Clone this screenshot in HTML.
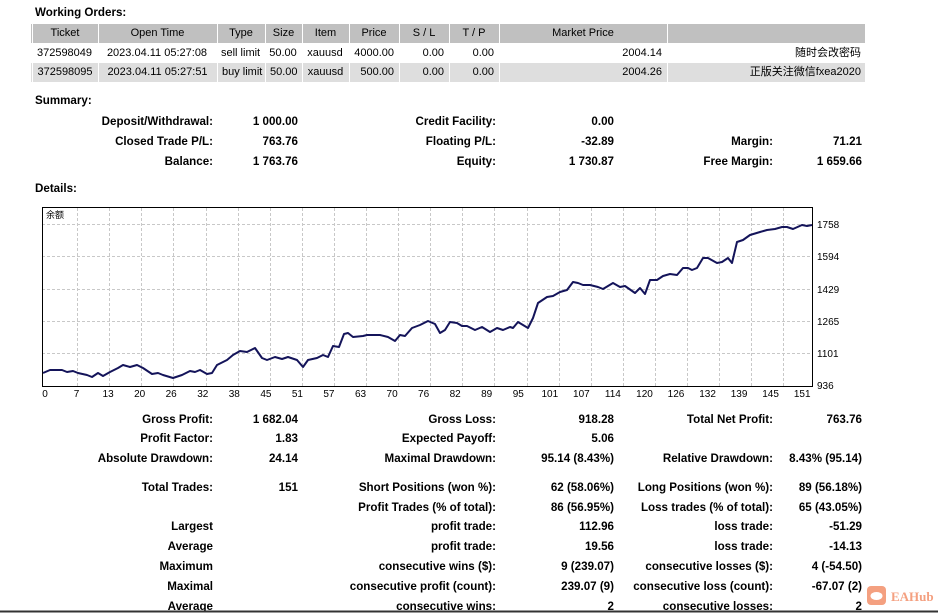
<!DOCTYPE html>
<html><head><meta charset="utf-8"><style>
body{margin:0;width:938px;height:613px;background:#fff;position:relative;overflow:hidden;font-family:"Liberation Sans","Noto Sans CJK SC",sans-serif;font-size:11px;color:#000}
.a{position:absolute;white-space:nowrap;line-height:14px}
.b{font-weight:bold;font-size:11.6px}
.r{text-align:right}
.c{text-align:center}
.cell{position:absolute;height:18px;line-height:18px;white-space:nowrap;padding:0 4px;box-sizing:border-box}
</style></head><body>
<div class="a b" style="left:35px;top:6px">Working Orders:</div>
<div style="position:absolute;left:31px;top:24px;width:834px;height:19px;background:#c0c0c0"></div>
<div style="position:absolute;left:31px;top:63px;width:834px;height:19px;background:#dedede"></div>
<div id="hdr"></div>
<script>
var cols=[[32,97,'Ticket'],[98,216,'Open Time'],[217,264,'Type'],[265,301,'Size'],[302,348,'Item'],[349,398,'Price'],[399,448,'S / L'],[449,498,'T / P'],[499,666,'Market Price'],[667,865,'']];
var r1=['372598049','2023.04.11 05:27:08','sell limit','50.00','xauusd','4000.00','0.00','0.00','2004.14','随时会改密码'];
var r2=['372598095','2023.04.11 05:27:51','buy limit','50.00','xauusd','500.00','0.00','0.00','2004.26','正版关注微信fxea2020'];
var al=['c','c','c','c','c','r','r','r','r','r'];
var h='';
cols.forEach(function(c,i){
 var w=c[1]-c[0];
 h+='<div class="cell c" style="left:'+c[0]+'px;top:24px;width:'+w+'px;height:19px;line-height:19px;border-left:1px solid #fff">'+c[2]+'</div>';
 h+='<div class="cell '+al[i]+'" style="left:'+c[0]+'px;top:43px;width:'+w+'px;height:20px;line-height:20px">'+r1[i]+'</div>';
 h+='<div class="cell '+al[i]+'" style="left:'+c[0]+'px;top:63px;width:'+w+'px;height:19px;line-height:19px;border-left:1px solid #fff">'+r2[i]+'</div>';
});
document.getElementById('hdr').innerHTML=h;
</script>
<div class="a b" style="left:35px;top:94px">Summary:</div>
<div class="a b" style="left:35px;top:182px">Details:</div>
<div id="rows"></div>
<script>
function row(y,cells){var s='';cells.forEach(function(c){if(c[1]!=='')s+='<div class="a b r" style="right:'+(938-c[0])+'px;top:'+(y-6)+'px">'+c[1]+'</div>';});return s;}
var R=[
[121,[[213,'Deposit/Withdrawal:'],[298,'1 000.00'],[496,'Credit Facility:'],[614,'0.00']]],
[141,[[213,'Closed Trade P/L:'],[298,'763.76'],[496,'Floating P/L:'],[614,'-32.89'],[773,'Margin:'],[862,'71.21']]],
[161,[[213,'Balance:'],[298,'1 763.76'],[496,'Equity:'],[614,'1 730.87'],[773,'Free Margin:'],[862,'1 659.66']]],
[419,[[213,'Gross Profit:'],[298,'1 682.04'],[496,'Gross Loss:'],[614,'918.28'],[773,'Total Net Profit:'],[862,'763.76']]],
[438,[[213,'Profit Factor:'],[298,'1.83'],[496,'Expected Payoff:'],[614,'5.06']]],
[458,[[213,'Absolute Drawdown:'],[298,'24.14'],[496,'Maximal Drawdown:'],[614,'95.14 (8.43%)'],[773,'Relative Drawdown:'],[862,'8.43% (95.14)']]],
[487,[[213,'Total Trades:'],[298,'151'],[496,'Short Positions (won %):'],[614,'62 (58.06%)'],[773,'Long Positions (won %):'],[862,'89 (56.18%)']]],
[507,[[496,'Profit Trades (% of total):'],[614,'86 (56.95%)'],[773,'Loss trades (% of total):'],[862,'65 (43.05%)']]],
[526,[[213,'Largest'],[496,'profit trade:'],[614,'112.96'],[773,'loss trade:'],[862,'-51.29']]],
[546,[[213,'Average'],[496,'profit trade:'],[614,'19.56'],[773,'loss trade:'],[862,'-14.13']]],
[566,[[213,'Maximum'],[496,'consecutive wins ($):'],[614,'9 (239.07)'],[773,'consecutive losses ($):'],[862,'4 (-54.50)']]],
[586,[[213,'Maximal'],[496,'consecutive profit (count):'],[614,'239.07 (9)'],[773,'consecutive loss (count):'],[862,'-67.07 (2)']]],
[606,[[213,'Average'],[496,'consecutive wins:'],[614,'2'],[773,'consecutive losses:'],[862,'2']]]];
var s='';R.forEach(function(r){s+=row(r[0],r[1]);});document.getElementById('rows').innerHTML=s;
</script>
<svg style="position:absolute;left:0;top:0" width="938" height="613">
<g stroke="#c8c8c8" stroke-dasharray="3,2" stroke-width="1">
<line x1="42" y1="224.5" x2="812" y2="224.5"/><line x1="42" y1="256.5" x2="812" y2="256.5"/><line x1="42" y1="289.5" x2="812" y2="289.5"/><line x1="42" y1="321.5" x2="812" y2="321.5"/><line x1="42" y1="353.5" x2="812" y2="353.5"/>
<g id="vg"></g>
</g>
<rect x="42.5" y="207.5" width="770" height="179" fill="none" stroke="#000"/>
<polyline fill="none" stroke="#14145a" stroke-width="2" stroke-linejoin="round" points="43,373 50,370 62,370 67,372 73,371 78,373 87,375 92,377 98,373 103,376 110,372 118,368 123,365 130,367 137,365 143,368 152,374 158,373 163,375 173,378 182,375 190,371 195,372 200,370 207,374 212,373 217,365 227,360 233,355 240,351 247,352 255,348 262,358 267,360 275,357 282,359 288,357 297,360 303,367 308,360 317,358 323,355 328,357 333,346 339,347 344,334 348,333 353,337 363,336 367,335 380,335 388,337 395,341 400,335 405,336 412,328 420,325 428,321 435,324 440,333 445,330 450,322 457,323 462,326 467,326 475,330 482,327 490,332 497,328 503,330 510,327 513,328 518,322 528,328 533,318 538,303 547,297 553,296 560,292 567,290 573,282 578,283 583,285 590,285 598,287 603,289 613,283 620,287 625,286 635,293 640,288 645,294 650,280 657,280 663,276 670,274 677,275 683,268 688,268 692,270 697,268 703,258 708,258 717,263 722,262 728,258 732,263 737,242 743,240 750,235 760,232 767,230 775,229 782,227 787,227 793,229 802,225 807,226 812,225"/>
<g font-family="Liberation Sans,sans-serif" font-size="10" fill="#000">
<text x="817" y="228">1758</text><text x="817" y="260">1594</text><text x="817" y="293">1429</text><text x="817" y="325">1265</text><text x="817" y="357">1101</text><text x="817" y="389">936</text>
<g id="xl" text-anchor="middle"></g>
<text x="46" y="218" font-size="9" font-family="Noto Sans CJK SC,sans-serif">余额</text>
</g>
<line x1="0" y1="611.5" x2="938" y2="611.5" stroke="#333" stroke-width="2"/>
<rect x="867" y="586" width="19" height="19" rx="4" fill="#f4a080"/>
<ellipse cx="876.5" cy="596" rx="6" ry="4" fill="#fff"/>
<text x="891" y="601" font-family="Liberation Serif,serif" font-size="13" font-weight="bold" fill="#f4a080">EAHub</text>
</svg>
<script>
var L=[0,7,13,20,26,32,38,45,51,57,63,70,76,82,89,95,101,107,114,120,126,132,139,145,151];
var xl='';
L.forEach(function(v,i){var x=45+i*31.55;xl+='<text x="'+x.toFixed(1)+'" y="397">'+v+'</text>';});
document.getElementById('xl').innerHTML=xl;
var g='';for(var i=1;i<24;i++){var x=Math.round(45+i*32.1)+0.5;g+='<line x1="'+x+'" y1="208" x2="'+x+'" y2="386"/>';}
document.getElementById('vg').innerHTML=g;
</script>
</body></html>
